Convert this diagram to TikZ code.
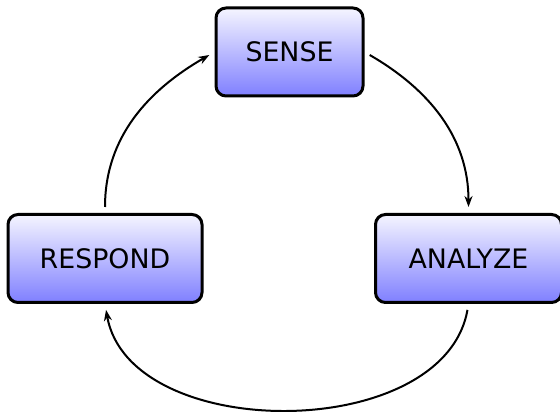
\documentclass[tikz,border=0pt]{standalone}
\usepackage{fontspec}
\setmainfont{DejaVu Sans}
\usetikzlibrary{arrows.meta}
\tikzset{
  box/.style={draw=black, line width=1.5pt, rounded corners=5pt,
    top color=blue!4, bottom color=blue!50, inner xsep=0pt,
    minimum height=44pt, font=\fontsize{13.4pt}{16pt}\selectfont},
  arr/.style={draw=black, line width=1pt, -{Stealth[length=5.5pt,width=4pt]},
    shorten <=3pt, shorten >=3pt}
}
\begin{document}
\begin{tikzpicture}[x=0.5pt,y=0.5pt]
\useasboundingbox (0,0) rectangle (560,411);
\node[box, minimum width=73.5pt] (s) at (289.5,359) {SENSE};
\node[box, minimum width=93pt] (a) at (468.5,152.5) {ANALYZE};
\node[box, minimum width=97pt] (r) at (105,152.5) {RESPOND};
\draw[arr] (s.east) to[out=-30,in=90] (a.north);
\draw[arr] (a.south) to[out=-100,in=-80,looseness=1.0] (r.south);
\draw[arr] (r.north) to[out=90,in=-150] (s.west);
\end{tikzpicture}
\end{document}
